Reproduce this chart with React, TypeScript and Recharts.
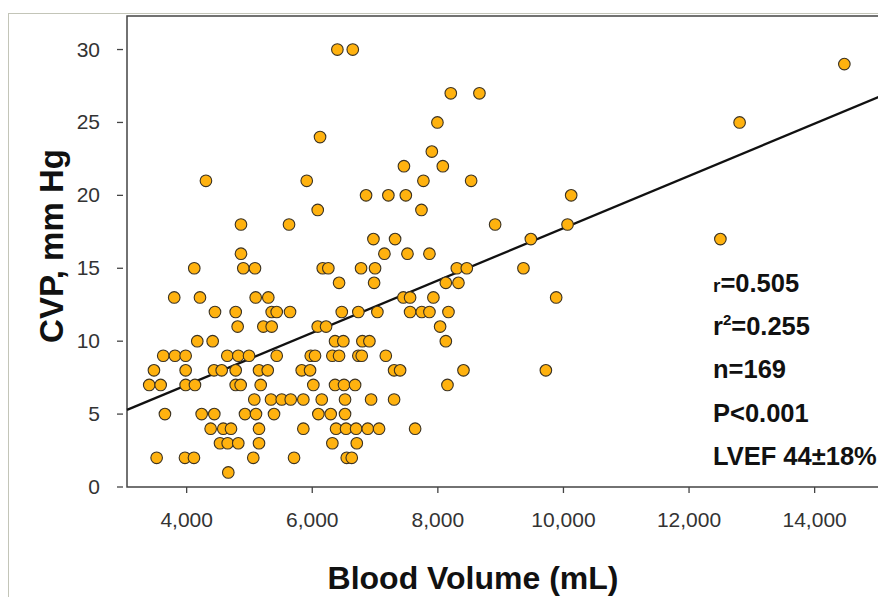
import { ScatterChart, Scatter, XAxis, YAxis, ReferenceArea, ReferenceLine, Customized } from 'recharts';

// CVP rows (mm Hg) and the blood volumes (mL) read at each row
const cvpRows = [30, 29, 27, 25, 24, 23, 22, 21, 20, 19, 18, 17, 16, 15, 14, 13, 12, 11, 10, 9, 8, 7, 6, 5, 4, 3, 2, 1];
const volumesByRow = [
  [6400, 6645],
  [14473],
  [8206, 8662],
  [7993, 12805],
  [6124],
  [7904],
  [7460, 8079],
  [4307, 5912, 7770, 8530],
  [6857, 7212, 7490, 10123],
  [6087, 7739],
  [4865, 5630, 8912, 10065],
  [6974, 7319, 9481, 12499],
  [4865, 7149, 7516, 7866],
  [4121, 4902, 5088, 6167, 6256, 6777, 7000, 8302, 8461, 9363],
  [6427, 6985, 8127, 8328],
  [3802, 4212, 5099, 5300, 7451, 7558, 7929, 9884],
  [4451, 4781, 5354, 5434, 5646, 6470, 6734, 7037, 7558, 7744, 7866, 8169],
  [4812, 5221, 5354, 6087, 6220, 8036],
  [4169, 4414, 6363, 6495, 6798, 6910, 8127],
  [3627, 3814, 3984, 4647, 4822, 4993, 5434, 5976, 6044, 6320, 6427, 6734, 6788, 7171],
  [3479, 3984, 4435, 4558, 4781, 5152, 5291, 5832, 5965, 7303, 7399, 8408, 9720],
  [3404, 3586, 3984, 4132, 4781, 4860, 5179, 6017, 6363, 6506, 6682, 8153],
  [5077, 5343, 5514, 5657, 5858, 6151, 6522, 6937, 7303],
  [3654, 4239, 4440, 4929, 5104, 5391, 6097, 6294, 6522],
  [4382, 4583, 4706, 5152, 5858, 6379, 6538, 6698, 6884, 7064, 7638],
  [4531, 4653, 4822, 5152, 6320, 6709],
  [3522, 3973, 4116, 5061, 5710, 6549, 6629],
  [4663],
];

// regression line end points
const fitVolume = [3050, 15200];
const fitCvp = [5.29, 27.07];

const xTicks = [4000, 6000, 8000, 10000, 12000, 14000];
const yTicks = [0, 5, 10, 15, 20, 25, 30];
const xDomain = [3050, 15200];
const yDomain = [0, 32.3];

const FONT = '"Liberation Sans", Arial, sans-serif';

const points = cvpRows.flatMap((cvp, i) => volumesByRow[i].map((volume) => ({ volume, cvp })));

const Dot = (props: any) => (
  <circle cx={props.cx} cy={props.cy} r={5.8} fill="#FFB20F" stroke="#3b3222" strokeWidth={1.1} />
);

const YTick = (props: any) => {
  const { x, y, payload } = props;
  return (
    <g>
      <line x1={x - 10} x2={x - 4} y1={y} y2={y} stroke="#444" strokeWidth={1.3} />
      <text x={x - 27} y={y} dy={7} textAnchor="end" fontSize={21} fill="#333" fontFamily={FONT}>
        {payload.value}
      </text>
    </g>
  );
};

const XTick = (props: any) => {
  const { x, y, payload } = props;
  return (
    <g>
      <line x1={x} x2={x} y1={y} y2={y + 6} stroke="#444" strokeWidth={1.3} />
      <text x={x} y={y + 40} textAnchor="middle" fontSize={21} fill="#333" fontFamily={FONT}>
        {Number(payload.value).toLocaleString('en-US')}
      </text>
    </g>
  );
};

const Annotations = () => (
  <g fontFamily={FONT} fontWeight="bold" fill="#111">
    <text x={63} y={246} fontSize={33} textAnchor="middle" transform="rotate(-90 63 246)">
      CVP, mm Hg
    </text>
    <text x={473} y={589} fontSize={32} textAnchor="middle">
      Blood Volume (mL)
    </text>
    <g fontSize={25.5}>
      <text x={713} y={292}>
        <tspan fontSize={19}>r</tspan>=0.505
      </text>
      <text x={713} y={335}>
        r<tspan dy={-10} fontSize={15}>2</tspan>
        <tspan dy={10}>=0.255</tspan>
      </text>
      <text x={713} y={378}>n=169</text>
      <text x={713} y={422}>P&lt;0.001</text>
      <text x={713} y={465}>LVEF 44±18%</text>
    </g>
  </g>
);

export default function App() {
  return (
    <div
      style={{
        position: 'absolute',
        left: 0,
        top: 0,
        width: 878,
        height: 597,
        overflow: 'hidden',
        background: '#fff',
      }}
    >
      <div
        style={{
          position: 'absolute',
          left: 8,
          top: 13,
          width: 900,
          height: 620,
          borderLeft: '1.5px solid #c3c5b8',
          borderTop: '1.5px solid #c3c5b8',
        }}
      />
      <div style={{ position: 'absolute', left: 0, top: 0 }}>
        <ScatterChart width={890} height={597} margin={{ top: 16, right: 0, bottom: 50, left: 27 }}>
          <XAxis
            type="number"
            dataKey="volume"
            domain={xDomain}
            ticks={xTicks}
            allowDataOverflow
            axisLine={false}
            tickLine={false}
            tickSize={0}
            tickMargin={0}
            height={60}
            tick={<XTick />}
          />
          <YAxis
            type="number"
            dataKey="cvp"
            domain={yDomain}
            ticks={yTicks}
            allowDataOverflow
            axisLine={false}
            tickLine={false}
            tickSize={0}
            tickMargin={0}
            width={100}
            tick={<YTick />}
          />
          <ReferenceArea
            x1={xDomain[0]}
            x2={xDomain[1]}
            y1={yDomain[0]}
            y2={yDomain[1]}
            fill="none"
            stroke="#444"
            strokeWidth={1.5}
            ifOverflow="visible"
          />
          <ReferenceLine
            segment={[
              { x: fitVolume[0], y: fitCvp[0] },
              { x: fitVolume[1], y: fitCvp[1] },
            ]}
            stroke="#111"
            strokeWidth={2.3}
            ifOverflow="visible"
          />
          <Scatter data={points} dataKey="cvp" shape={Dot} isAnimationActive={false} />
          <Customized component={<Annotations />} />
        </ScatterChart>
      </div>
    </div>
  );
}
